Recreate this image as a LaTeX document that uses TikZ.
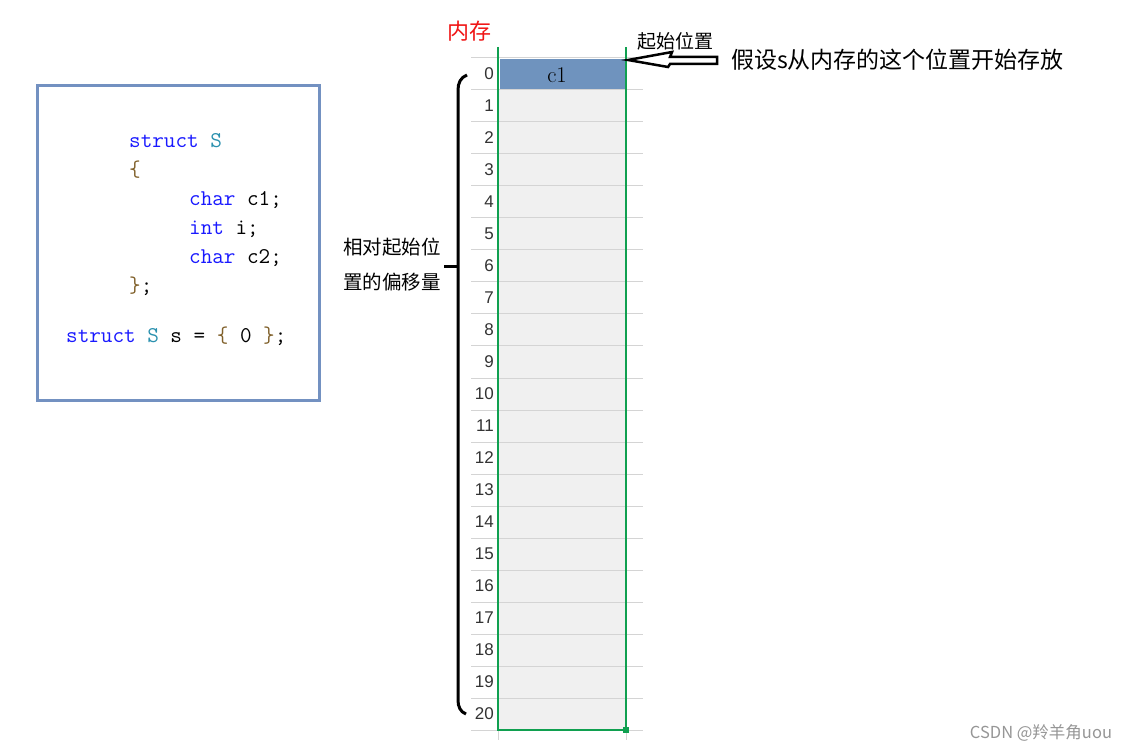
\documentclass[tikz,border=0pt]{standalone}
\usepackage{fontspec}
\newfontfamily\cjk{Noto Sans CJK SC}
\newfontfamily\numfont{Liberation Sans}
\usetikzlibrary{positioning}
\definecolor{memgreen}{RGB}{16,160,80}
\definecolor{gridgrey}{RGB}{212,212,212}
\definecolor{cellgrey}{RGB}{240,240,240}
\definecolor{cellblue}{RGB}{111,147,190}
\definecolor{boxblue}{RGB}{115,145,193}
\definecolor{kwblue}{RGB}{25,25,255}
\definecolor{typeteal}{RGB}{43,145,175}
\definecolor{bracebrown}{RGB}{128,96,42}
\definecolor{markgrey}{RGB}{150,150,150}
\definecolor{numgrey}{RGB}{51,51,51}
\definecolor{memred}{RGB}{240,20,20}
\newcommand{\kw}[1]{\textcolor{kwblue}{#1}}
\newcommand{\ty}[1]{\textcolor{typeteal}{#1}}
\newcommand{\br}[1]{\textcolor{bracebrown}{#1}}
\tikzset{
  code/.style={font=\fontsize{22.5}{24}\selectfont\ttfamily, anchor=base west, inner sep=0pt},
  cjktext/.style={font=\fontsize{#1}{#1}\selectfont\cjk, inner sep=0pt},
  rownum/.style={font=\fontsize{17}{17}\selectfont\numfont, text=numgrey, anchor=east, inner sep=0pt},
  gridline/.style={draw=gridgrey, line width=1pt},
  memline/.style={draw=memgreen, line width=2pt},
  bracket/.style={draw=black, line width=3pt},
  hollowarrow/.style={draw=black, line width=2.5pt, line join=miter, fill=white},
}
\begin{document}
\begin{tikzpicture}[x=1pt,y=-1pt]
  \useasboundingbox[fill=white] (0,0) rectangle (1130,751);
  % code box
  \draw[boxblue, line width=3pt] (37,86) rectangle (319,400);
  \node[code] (l1) at (129,148) {\kw{struct} \ty{S}};
  \node[code] (l2) at (129,177) {\br{\{}};
  \node[code] (l3) at (189,206) {\kw{char} c1;};
  \node[code] (l4) at (189,235) {\kw{int} i;};
  \node[code] (l5) at (189,264) {\kw{char} c2;};
  \node[code] (l6) at (129,293) {\br{\}};};
  \node[code] (l7) at (66,342) {\kw{struct} \ty{S} s = \br{\{} 0 \br{\}};};
  % memory cells
  \fill[cellgrey] (499,90) rectangle (626,730);
  \foreach \i in {0,...,21}{
    \draw[gridline] (471,{58+32*\i}) -- (643,{58+32*\i});
  }
  \fill[cellblue] (500,59.5) rectangle (625,89.5);
  \foreach \i in {0,...,20}{
    \node[rownum] (r\i) at (494,{74+32*\i}) {\i};
  }
  \draw[gridline] (498,730) -- (498,740);
  \draw[gridline] (626,730) -- (626,740);
  \node[font=\fontsize{22.5}{22.5}\selectfont, inner sep=0pt] (c1) at (557,75) {c1};
  \coordinate (tl) at (498,47);
  \coordinate (tr) at (626,47);
  \draw[memline] (tl) -- (498,730) -- (626,730) -- (tr);
  \fill[memgreen] (623,727) rectangle (629,733);
  \node[cjktext=22, text=memred] (mem) at (469,31) {内存};
  % start position
  \node[cjktext=19] (start) at (675,41) {起始位置};
  \coordinate (tip) at (628,60);
  \draw[hollowarrow] (tip) -- ++(44,-8) -- ++(-2,5) -- ++(47,0) -- ++(0,7) -- ++(-47,0) -- ++(-2,3) -- cycle;
  \node[cjktext=23, anchor=west] (note) at (731,60) {假设s从内存的这个位置开始存放};
  % offset bracket
  \coordinate (btop) at (467,75);
  \coordinate (bbot) at (466,714);
  \coordinate (bmid) at (458,267);
  \draw[bracket] (btop) to[out=200,in=90] (458,90) -- (458,700) to[out=-90,in=160] (bbot);
  \draw[bracket] (bmid) -- ++(-14,0);
  \node[cjktext=19.5] (off1) at (392,247) {相对起始位};
  \node[cjktext=19.5] (off2) at (392,282) {置的偏移量};
  % watermark
  \node[cjktext=16.5, text=markgrey] (mark) at (1041,733) {CSDN @羚羊角uou};
\end{tikzpicture}
\end{document}
